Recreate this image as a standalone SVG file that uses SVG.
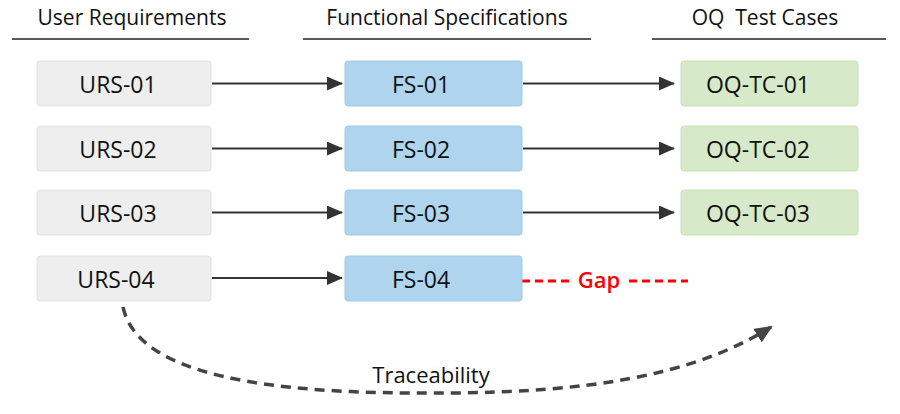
<svg xmlns="http://www.w3.org/2000/svg" width="900" height="414" viewBox="0 0 900 414">
<style>
text{font-family:"Open Sans","Noto Sans","Liberation Sans",sans-serif;fill:#111}
.hd{font-size:21px;text-anchor:middle}
.lbl{font-size:23px;text-anchor:middle;dominant-baseline:central}
.hl{stroke:#222;stroke-width:1.5}
.urs{fill:#eeeeee;stroke:#e3e3e3;stroke-width:1}
.fs{fill:#aed4ee;stroke:#9fcbe9;stroke-width:1}
.oq{fill:#d6e9c9;stroke:#c7e0b6;stroke-width:1}
.arr{stroke:#333;stroke-width:2;fill:none;marker-end:url(#ah)}
</style>
<defs>
<marker id="ah" markerWidth="16" markerHeight="14" refX="15" refY="7" orient="auto" markerUnits="userSpaceOnUse">
<path d="M0,0 L16,7 L0,14 Z" fill="#333"/>
</marker>
<marker id="ah2" markerWidth="18" markerHeight="16" refX="16" refY="8" orient="auto" markerUnits="userSpaceOnUse">
<path d="M0,0 L18,8 L0,16 Z" fill="#444"/>
</marker>
</defs>
<rect width="900" height="414" fill="#fff"/>
<g id="headers">
<text class="hd" x="132" y="25">User Requirements</text>
<line class="hl" x1="12" y1="39" x2="249" y2="39"/>
<text class="hd" x="447" y="25">Functional Specifications</text>
<line class="hl" x1="303" y1="39" x2="591" y2="39"/>
<text class="hd" x="765" y="25" xml:space="preserve">OQ  Test Cases</text>
<line class="hl" x1="652" y1="39" x2="886" y2="39"/>
</g>
<g id="connectors">
<line class="arr" x1="212" y1="83.5" x2="342" y2="83.5"/>
<line class="arr" x1="523" y1="83.5" x2="674" y2="83.5"/>
<line class="arr" x1="212" y1="148.5" x2="342" y2="148.5"/>
<line class="arr" x1="523" y1="148.5" x2="674" y2="148.5"/>
<line class="arr" x1="212" y1="212.5" x2="342" y2="212.5"/>
<line class="arr" x1="523" y1="212.5" x2="674" y2="212.5"/>
<line class="arr" x1="212" y1="278" x2="342" y2="278"/>
<g id="gap">
<line x1="522" y1="281" x2="574" y2="281" stroke="#ff0000" stroke-width="3" stroke-dasharray="8,5"/>
<text x="599" y="288" font-size="22" font-weight="600" text-anchor="middle" style="fill:#ff0000">Gap</text>
<line x1="629" y1="281" x2="688" y2="281" stroke="#ff0000" stroke-width="3" stroke-dasharray="8,5"/>
</g>
<g id="traceability">
<path d="M123,307 C140,388 320,394 450,393 C580,392 690,378 771,327" fill="none" stroke="#444" stroke-width="3.5" stroke-dasharray="10,7" marker-end="url(#ah2)"/>
<text x="431" y="383" font-size="22" text-anchor="middle" stroke="#fff" stroke-width="5" paint-order="stroke" stroke-linejoin="round">Traceability</text>
</g>
</g>
<g id="URS-01"><rect class="urs" x="37" y="61" width="174" height="45" rx="3"/><text class="lbl" x="118" y="83.5">URS-01</text></g>
<g id="URS-02"><rect class="urs" x="37" y="126" width="174" height="45" rx="3"/><text class="lbl" x="118" y="148.5">URS-02</text></g>
<g id="URS-03"><rect class="urs" x="37" y="190" width="174" height="45" rx="3"/><text class="lbl" x="118" y="212.5">URS-03</text></g>
<g id="URS-04"><rect class="urs" x="37" y="256" width="174" height="45" rx="3"/><text class="lbl" x="116" y="278.5">URS-04</text></g>
<g id="FS-01"><rect class="fs" x="345" y="61" width="177" height="45" rx="3"/><text class="lbl" x="421" y="83.5">FS-01</text></g>
<g id="FS-02"><rect class="fs" x="345" y="126" width="177" height="45" rx="3"/><text class="lbl" x="421" y="148.5">FS-02</text></g>
<g id="FS-03"><rect class="fs" x="345" y="190" width="177" height="45" rx="3"/><text class="lbl" x="421" y="212.5">FS-03</text></g>
<g id="FS-04"><rect class="fs" x="345" y="256" width="177" height="45" rx="3"/><text class="lbl" x="421" y="278.5">FS-04</text></g>
<g id="OQ-TC-01"><rect class="oq" x="681" y="61" width="177" height="45" rx="3"/><text class="lbl" x="758" y="83.5">OQ-TC-01</text></g>
<g id="OQ-TC-02"><rect class="oq" x="681" y="126" width="177" height="45" rx="3"/><text class="lbl" x="758" y="148.5">OQ-TC-02</text></g>
<g id="OQ-TC-03"><rect class="oq" x="681" y="190" width="177" height="45" rx="3"/><text class="lbl" x="758" y="212.5">OQ-TC-03</text></g>
</svg>
